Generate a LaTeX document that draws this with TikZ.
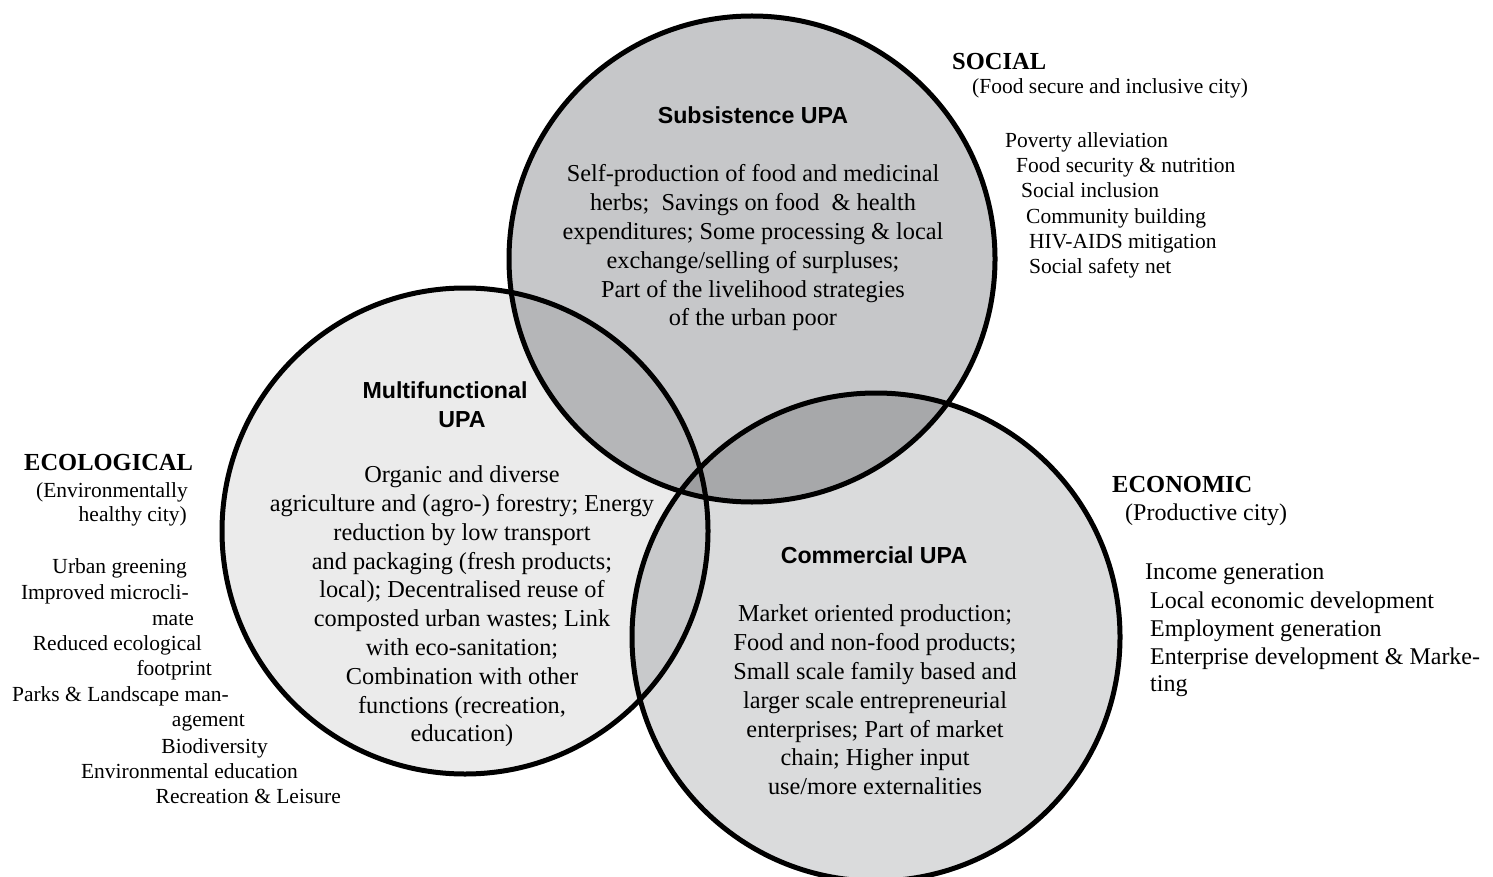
\documentclass[tikz,border=0pt]{standalone}
\usepackage{fontspec}
\setmainfont{Liberation Serif}
\newfontfamily\headsans{Liberation Sans}
\definecolor{cT}{HTML}{C6C7C9}
\definecolor{cL}{HTML}{EBEBEB}
\definecolor{cR}{HTML}{DADBDC}
\definecolor{cTL}{HTML}{B5B6B8}
\definecolor{cTR}{HTML}{A7A8AA}
\definecolor{cLR}{HTML}{C8C9CB}
\definecolor{cTLR}{HTML}{9D9EA0}
\begin{document}
\begin{tikzpicture}[x=1pt,y=-1pt,
  body/.style={font=\fontsize{24.3}{28.8}\selectfont, align=center, inner sep=0pt},
  head/.style={font=\headsans\bfseries\fontsize{23.2}{26}\selectfont, inner sep=0pt, anchor=base},
  cat/.style={font=\bfseries\fontsize{24.5}{28}\selectfont, inner sep=0pt, anchor=base west},
  item/.style={font=\fontsize{21.5}{25}\selectfont, inner sep=0pt, anchor=base west},
  itemR/.style={font=\fontsize{21.5}{25}\selectfont, inner sep=0pt, anchor=base east},
  itemB/.style={font=\fontsize{24}{28}\selectfont, inner sep=0pt, anchor=base west},
  ring/.style={line width=5pt}]
\useasboundingbox (0,0) rectangle (1493,877);
\def\Ct{(752,259) circle (243)}
\def\Cl{(465,531) circle (243)}
\def\Cr{(876,637) circle (244)}
\fill[cT] \Ct;
\fill[cL] \Cl;
\fill[cR] \Cr;
\begin{scope}\clip \Ct; \fill[cTL] \Cl;\end{scope}
\begin{scope}\clip \Ct; \fill[cTR] \Cr;\end{scope}
\begin{scope}\clip \Cl; \fill[cLR] \Cr;\end{scope}
\begin{scope}\clip \Ct; \clip \Cl; \fill[cTLR] \Cr;\end{scope}
\draw[ring] \Ct;
\draw[ring] \Cl;
\draw[ring] \Cr;

% headings
\node[head] (hs) at (753,124) {Subsistence UPA};
\node[head] (hm1) at (445,398) {Multifunctional};
\node[head] (hm2) at (462,427) {UPA};
\node[head] (hc) at (874,563) {Commercial UPA};

% bodies
\node[body] (bs) at (753,248) {Self-production of food and medicinal\\herbs;\ \ Savings on food\ \ \& health\\expenditures; Some processing \& local\\exchange/selling of surpluses;\\Part of the livelihood strategies\\of the urban poor};
\node[body] (bm) at (462,606.5) {Organic and diverse\\agriculture and (agro-) forestry; Energy\\reduction by low transport\\and packaging (fresh products;\\local); Decentralised reuse of\\composted urban wastes; Link\\with eco-sanitation;\\Combination with other\\functions (recreation,\\education)};
\node[body] (bc) at (875,700) {Market oriented production;\\Food and non-food products;\\Small scale family based and\\larger scale entrepreneurial\\enterprises; Part of market\\chain; Higher input\\use/more externalities};

% social
\node[cat] (soc) at (952,70) {SOCIAL};
\node[item] (socs) at (972,93.3) {(Food secure and inclusive city)};
\node[item] (s1) at (1005,147.7) {Poverty alleviation};
\node[item] (s2) at (1016,172.7) {Food security \& nutrition};
\node[item] (s3) at (1021,197.7) {Social inclusion};
\node[item] (s4) at (1026,224) {Community building};
\node[item] (s5) at (1029,248.3) {HIV-AIDS mitigation};
\node[item] (s6) at (1029,273.3) {Social safety net};

% economic
\node[cat] (eco) at (1112,492.7) {ECONOMIC};
\node[itemB] (ecos) at (1125,520) {(Productive city)};
\node[itemB] (e1) at (1145,579.3) {Income generation};
\node[itemB] (e2) at (1150,608.3) {Local economic development};
\node[itemB] (e3) at (1150,636) {Employment generation};
\node[itemB] (e4) at (1150,664) {Enterprise development \& Marke-};
\node[itemB] (e5) at (1150,691.7) {ting};

% ecological
\node[cat] (ecl) at (24,470.7) {ECOLOGICAL};
\node[itemR] (l0a) at (188,497.3) {(Environmentally};
\node[itemR] (l0b) at (187,521.7) {healthy city)};
\node[itemR] (l1) at (187,573.3) {Urban greening};
\node[itemR] (l2) at (189,599.3) {Improved microcli-};
\node[itemR] (l3) at (194,625) {mate};
\node[itemR] (l4) at (202,650) {Reduced ecological};
\node[itemR] (l5) at (212,675) {footprint};
\node[itemR] (l6) at (229,701) {Parks \& Landscape man-};
\node[itemR] (l7) at (245,726.7) {agement};
\node[itemR] (l8) at (268,753.3) {Biodiversity};
\node[itemR] (l9) at (298,778.3) {Environmental education};
\node[itemR] (l10) at (341,803.5) {Recreation \& Leisure};
\end{tikzpicture}
\end{document}
